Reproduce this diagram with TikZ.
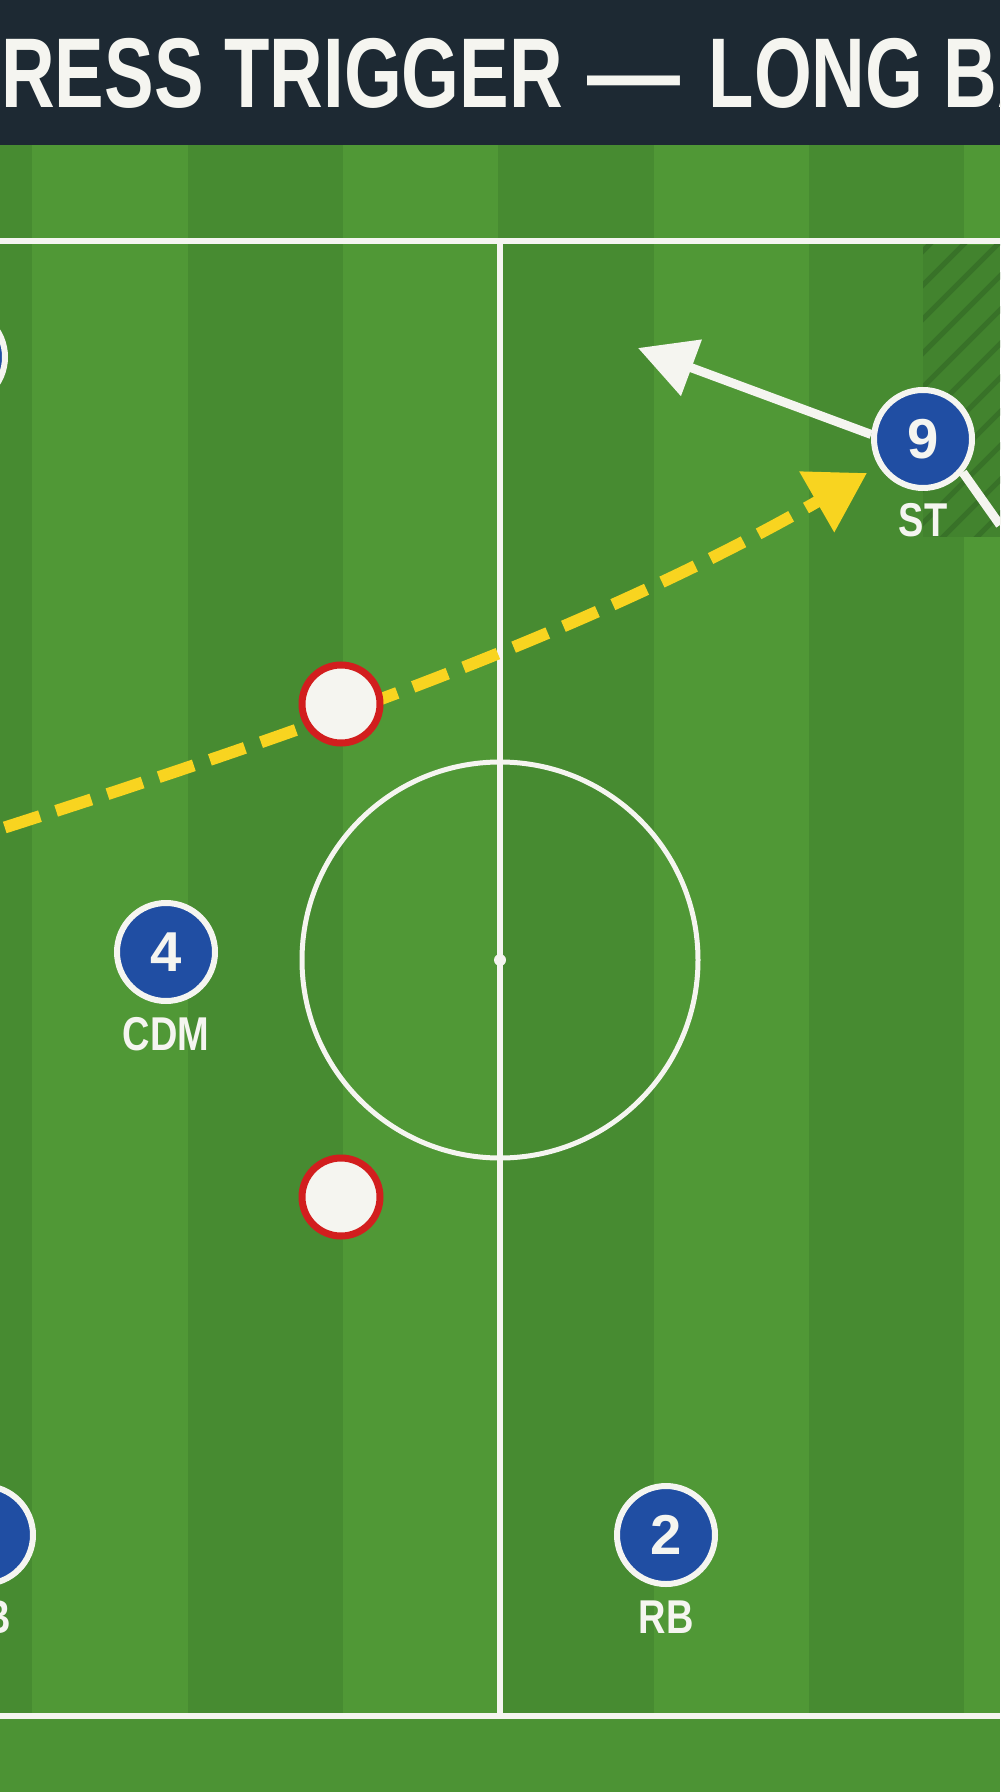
\documentclass[tikz,border=0pt]{standalone}
\usepackage{fontspec}
\usepackage{tikz}
\setmainfont{Liberation Sans}
\newfontfamily\titlefont{Liberation Sans}[FakeStretch=0.75]
\newfontfamily\tagfont{Liberation Sans}[FakeStretch=0.8]
\usetikzlibrary{arrows.meta}

\definecolor{headbar}{RGB}{29,41,51}
\definecolor{grasslight}{RGB}{80,152,54}
\definecolor{grassdark}{RGB}{71,139,49}
\definecolor{grassmid}{RGB}{76,147,52}
\definecolor{zonegreen}{RGB}{66,131,46}
\definecolor{hatchgreen}{RGB}{56,114,40}
\definecolor{chalk}{RGB}{245,245,240}
\definecolor{kitblue}{RGB}{32,78,163}
\definecolor{rivalred}{RGB}{210,30,30}
\definecolor{ballyellow}{RGB}{248,212,32}

\pgfdeclarelayer{background}
\pgfsetlayers{background,main}

\begin{document}
\begin{tikzpicture}[x=0.1mm, y=-0.1mm,
	pitchline/.style={draw=chalk, line width=0.6mm},
	player/.style={circle, fill=kitblue, draw=chalk, line width=0.6mm, minimum size=9.8mm, inner sep=0pt, text=chalk, font=\bfseries\fontsize{16}{16}\selectfont},
	rival/.style={circle, fill=chalk, draw=rivalred, line width=0.7mm, minimum size=7.8mm, inner sep=0pt},
	tag/.style={anchor=base, inner sep=0pt, text=chalk, font=\tagfont\bfseries\fontsize{13.5}{13.5}\selectfont},
	run/.style={draw=chalk, line width=0.9mm, -{Triangle[length=5.7mm, width=5.8mm]}},
	ballpath/.style={draw=ballyellow, line width=1.2mm, dash pattern=on 3.7mm off 1.7mm, dash phase=4.9mm, -{Triangle[length=5.8mm, width=6.7mm]}}]

\newcommand\stripew{155.3}

\useasboundingbox (0,0) rectangle (1000,1792);

%\draw[step=100, gray, very thin, dotted] (0,0) grid (1000,1792);

\begin{pgfonlayer}{background}
% grass
\fill [grasslight] (0,0) rectangle (1000,1792);
\foreach \i [evaluate=\i as \xs using -123+\i*\stripew] in {0,2,4,6}
	\fill [grassdark] (\xs,145) rectangle +(\stripew,1571);
\fill [grassmid] (0,1716) rectangle (1000,1792);

% hatched zone
\fill [zonegreen] (923,245) rectangle (1000,537);
\begin{scope}
	\clip (923,245) rectangle (1000,537);
	\foreach \k in {0,...,14}
		\draw [hatchgreen, line width=0.5mm] (580+\k*34,560) -- ++(340,-340);
\end{scope}

% markings
\draw [pitchline] (0,241) -- (1000,241);
\draw [pitchline] (0,1716) -- (1000,1716);
\draw [pitchline] (500,241) -- (500,1716);
\draw [chalk, line width=0.5mm] (500,960) circle (19.8mm);
\fill [chalk] (500,960) circle (0.6mm);
\end{pgfonlayer}

% players
\begin{scope}
\clip (0,0) rectangle (1000,1792);
\node at (923,439) [player] (st) {9};
\node at (923,537) [tag] (sttag) {ST};
\node at (166,952) [player] (cdm) {4};
\node at (166,1050) [tag] (cdmtag) {CDM};
\node at (666,1535) [player] (rb) {2};
\node at (666,1633) [tag] (rbtag) {RB};
\node at (-16,1535) [player] (cb) {5};
\node at (-16,1633) [tag] (cbtag) {CB};
\node at (-44,357) [player] (wide) {};

\node at (341,704) [rival] (presser) {};
\node at (341,1197) [rival] (cover) {};
\end{scope}

% long ball and runs
\coordinate (passfrom) at (0,829);
\coordinate (passto) at (867,473);
\coordinate (runto) at (638,348);
\coordinate (runoff) at (1000,525);

\begin{pgfonlayer}{background}
\draw [ballpath] (passfrom) .. controls (290,736) and (587,634) .. (passto);
\draw [run] (st.175) -- (runto);
\draw [chalk, line width=0.9mm] (st.-40) -- (runoff);
\end{pgfonlayer}

% title bar
\begin{scope}
\clip (0,0) rectangle (1000,145);
\fill [headbar] (0,0) rectangle (1000,145);
\node at (-49,108) [anchor=base west, inner sep=0pt, text=chalk, font=\titlefont\bfseries\fontsize{28.2}{30}\selectfont] (title)
				{PRESS TRIGGER\hspace{7pt}\scalebox{1.25}[1]{—}\hspace{8pt}LONG BALL};
\end{scope}

\end{tikzpicture}
\end{document}
